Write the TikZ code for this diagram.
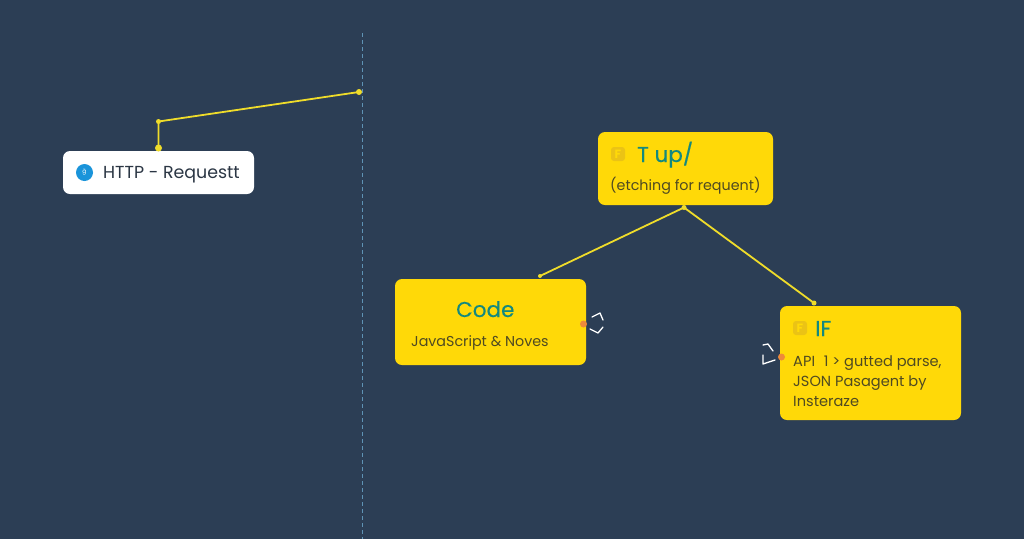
\documentclass[tikz,border=0pt]{standalone}
\usepackage{fontspec}
\setmainfont{Poppins}
\newfontfamily\headfont[FakeBold=0.35]{Poppins}
\definecolor{bgc}{HTML}{2C3E55}
\definecolor{boxy}{HTML}{FFD908}
\definecolor{liney}{HTML}{EFDC2A}
\definecolor{teal1}{HTML}{13897F}
\definecolor{txt}{HTML}{4F4A22}
\definecolor{httptxt}{HTML}{2B3644}
\definecolor{iconb}{HTML}{1A94DA}
\definecolor{iconf}{HTML}{E3B91A}
\definecolor{dot}{HTML}{EE8A3A}
\definecolor{dash1}{HTML}{5F93B5}
\tikzset{
 x=1pt,y=-1pt,
 card/.style={draw=none,fill=boxy,rounded corners=7pt,minimum width=#1,inner sep=0pt},
 wire/.style={draw=liney,line width=1.8pt},
 jdot/.style={circle,fill=liney,minimum size=6pt,inner sep=0pt},
 head/.style={text=teal1,font=\headfont\fontsize{21.5}{21.5}\selectfont,inner sep=0pt,anchor=base west},
 body/.style={text=txt,font=\fontsize{14.3}{20}\selectfont,inner sep=0pt,anchor=base west},
 glyph/.style={fill=iconf!70!boxy,rounded corners=3pt,minimum size=14pt,inner sep=0pt,text=boxy,font=\fontsize{12}{12}\selectfont\bfseries},
 tick/.style={draw=white,line width=1.3pt,line cap=round,line join=round},
 port/.style={circle,fill=dot,minimum size=7pt,inner sep=0pt},
}
\begin{document}
\begin{tikzpicture}
\fill[bgc] (0,0) rectangle (1024,539);
\useasboundingbox (0,0) rectangle (1024,539);
% divider
\coordinate (dtop) at (362.5,33);
\coordinate (dbot) at (362.5,539);
\draw[dash1,line width=1pt,dash pattern=on 4pt off 3pt] (dtop) -- (dbot);
% cards
\node[card=191pt,minimum height=43pt,fill=white] (http) at (158.5,172.5) {};
\node[card=175pt,minimum height=73pt] (tup) at (685.5,168.5) {};
\node[card=191pt,minimum height=86pt] (code) at (490.5,322) {};
\node[card=181pt,minimum height=114pt] (iff) at (870.5,363) {};
% connectors
\coordinate (bend) at (158.5,121.5);
\coordinate (tipa) at (359,92);
\coordinate (codeTop) at (540,276);
\coordinate (ifTop) at (814,303);
\coordinate (tupBot) at (684,207.5);
\draw[wire] (http.north) -- (bend) -- (tipa);
\draw[wire] (tupBot) -- (codeTop);
\draw[wire] (tupBot) -- (ifTop);
\node[jdot,minimum size=7pt] (j1) at (158.5,148) {};
\node[jdot,minimum size=5pt] (j2) at (bend) {};
\node[jdot,minimum size=6pt] (j3) at (tipa) {};
\node[jdot,minimum size=5pt] (j4) at (tupBot) {};
\node[jdot,minimum size=4pt] (j5) at (codeTop) {};
\node[jdot,minimum size=5pt] (j6) at (ifTop) {};
% HTTP
\node[circle,fill=iconb,minimum size=17pt,inner sep=0pt,text=white,font=\fontsize{6}{6}\selectfont] (ic1) at (84.5,172.5) {ğ};
\node[text=httptxt,font=\fontsize{17.4}{17.4}\selectfont,inner sep=0pt,anchor=base west] (t1) at (103,178.5) {HTTP - Requestt};
% T up
\node[glyph] (ic2) at (618,154) {F};
\node[head] (t2) at (637,162) {T up/};
\node[body] (t2b) at (610,190) {(etching for requent)};
% Code
\node[head] (t3) at (456,317) {Code};
\node[body] (t3b) at (411,346) {JavaScript \& Noves};
\node[port] (p1) at (583.5,324) {};
\coordinate (a1) at (592,317); \coordinate (a2) at (600,313); \coordinate (a3) at (603,320);
\coordinate (a4) at (590,329); \coordinate (a5) at (603,327); \coordinate (a6) at (598,333);
\draw[tick] (a1) -- (a2) -- (a3);
\draw[tick] (a4) -- (a6) -- (a5);
% IF
\node[glyph] (ic4) at (800,328) {F};
\node[head] (t4) at (815,336) {IF};
\node[body,align=left,anchor=north west,font=\fontsize{14.6}{20}\selectfont] (t4b) at (793,355) {API\,\, 1 > gutted parse,\\JSON Pasagent by\\Insteraze};
\node[port] (p2) at (781.5,357) {};
\coordinate (b1) at (773,351); \coordinate (b2) at (768,344); \coordinate (b3) at (763,345);
\coordinate (b4) at (763,355); \coordinate (b5) at (763,364); \coordinate (b6) at (775,360);
\draw[tick] (b3) -- (b2) -- (b1);
\draw[tick] (b4) -- (b5) -- (b6);
\end{tikzpicture}
\end{document}
